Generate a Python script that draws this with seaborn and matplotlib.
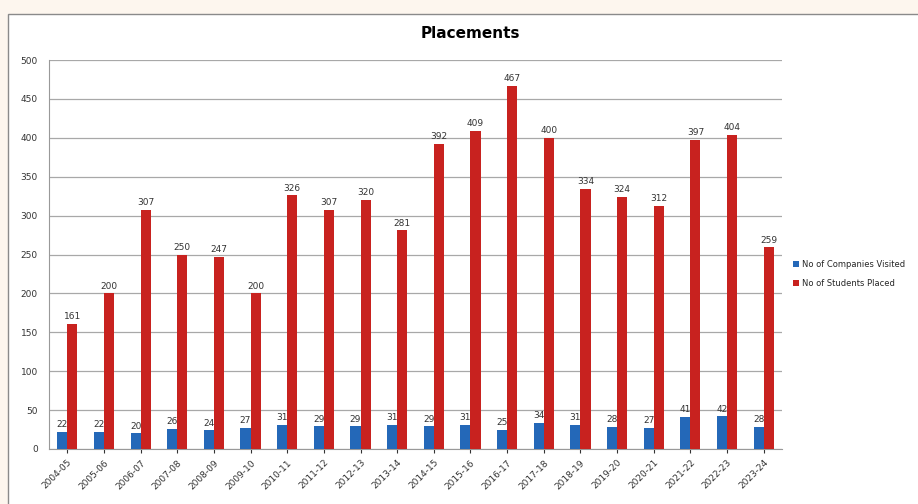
import pandas as pd
import numpy as np
import matplotlib.pyplot as plt
import seaborn as sns
from matplotlib.patches import Rectangle

years = ["2004-05", "2005-06", "2006-07", "2007-08", "2008-09", "2009-10", "2010-11",
         "2011-12", "2012-13", "2013-14", "2014-15", "2015-16", "2016-17", "2017-18",
         "2018-19", "2019-20", "2020-21", "2021-22", "2022-23", "2023-24"]
companies = [22, 22, 20, 26, 24, 27, 31, 29, 29, 31, 29, 31, 25, 34, 31, 28, 27, 41, 42, 28]
students = [161, 200, 307, 250, 247, 200, 326, 307, 320, 281, 392, 409, 467, 400,
            334, 324, 312, 397, 404, 259]

series_names = ["No of Companies Visited", "No of Students Placed"]
colors = ["#2468b8", "#c8221f"]

df = pd.DataFrame({
    "Year": years * 2,
    "Series": [series_names[0]] * len(years) + [series_names[1]] * len(years),
    "Value": companies + students,
})

sns.set_style("white")
plt.rcParams['font.family'] = ['DejaVu Sans']

fig = plt.figure(figsize=(9.18, 5.04), dpi=100, facecolor="#fdf6ee")
# white chart frame (cut off at right and bottom like the screenshot)
fig.patches.append(Rectangle((8 / 918, -0.1), 1.1, 1 - 14 / 504 + 0.1,
                             transform=fig.transFigure, facecolor="white",
                             edgecolor="#8a8a8a", linewidth=1.0, zorder=-5))

ax = fig.add_axes([49 / 918, 1 - 449 / 504, (782 - 49) / 918, (449 - 60) / 504])
ax.set_facecolor("white")

sns.barplot(data=df, x="Year", y="Value", hue="Series", palette=colors,
            saturation=1, width=0.55, dodge=True, ax=ax, edgecolor="none", zorder=3)

for cont in ax.containers:
    ax.bar_label(cont, fontsize=6.5, color="#333333", padding=2)

ax.set_ylim(0, 500)
ax.set_yticks(np.arange(0, 501, 50))
ax.yaxis.grid(True, color="#a8a8a8", linewidth=0.9, zorder=0)
ax.set_axisbelow(True)
for s in ["top", "right"]:
    ax.spines[s].set_visible(False)
ax.spines["left"].set_color("#999999")
ax.spines["bottom"].set_color("#999999")
ax.tick_params(axis="y", labelsize=6.5, colors="#333333", length=0, pad=8)
ax.tick_params(axis="x", labelsize=6.5, colors="#333333", length=3, bottom=True)
plt.setp(ax.get_xticklabels(), rotation=45, ha="right", rotation_mode="anchor")
ax.set_xlabel("")
ax.set_ylabel("")

fig.text(470 / 918, 1 - 33 / 504, "Placements", fontsize=11, fontweight="bold",
         color="black", ha="center", va="center")

leg = ax.legend(loc="center left", bbox_to_anchor=(1.005, 0.45), frameon=False,
                fontsize=6, handlelength=0.7, handleheight=0.7, handletextpad=0.4,
                labelspacing=1.2)

fig.savefig("out.png", dpi=100, facecolor=fig.get_facecolor())
